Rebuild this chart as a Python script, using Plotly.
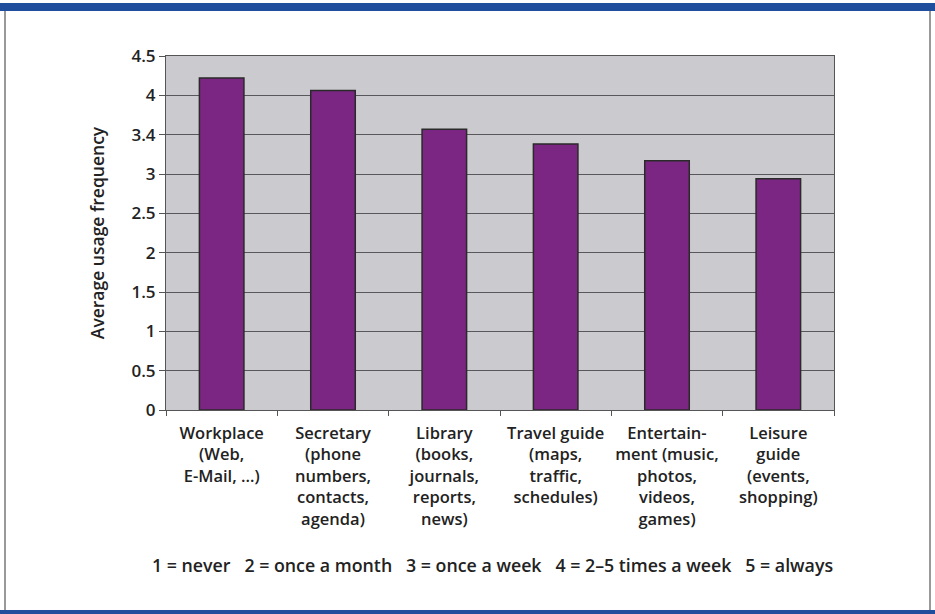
import plotly.graph_objects as go

categories = [
    "Workplace<br>(Web,<br>E-Mail, …)",
    "Secretary<br>(phone<br>numbers,<br>contacts,<br>agenda)",
    "Library<br>(books,<br>journals,<br>reports,<br>news)",
    "Travel guide<br>(maps,<br>traffic,<br>schedules)",
    "Entertain-<br>ment (music,<br>photos,<br>videos,<br>games)",
    "Leisure<br>guide<br>(events,<br>shopping)",
]
values = [4.22, 4.06, 3.57, 3.38, 3.17, 2.94]
y_tickvals = [0, 0.5, 1, 1.5, 2, 2.5, 3, 3.5, 4, 4.5]
y_ticktext = ["0", "0.5", "1", "1.5", "2", "2.5", "3", "3.4", "4", "4.5"]
scale_note = "1 = never   2 = once a month   3 = once a week   4 = 2–5 times a week   5 = always"

W, H = 935, 614
L, R, T, B = 166, 834, 56, 410

def px_x(px):
    return (px - L) / (R - L)

def px_y(py):
    return (B - py) / (B - T)

FONT = "Open Sans"
TXT = "#222"
WGT = 600

fig = go.Figure(go.Bar(
    x=categories, y=values, width=0.4,
    marker=dict(color="#7b2682", line=dict(color="#2a2a2a", width=1.5)),
))

fig.update_layout(
    width=W, height=H,
    margin=dict(l=L, r=W - R, t=T, b=H - B),
    paper_bgcolor="white",
    plot_bgcolor="#cbcbcf",
    font=dict(family=FONT, size=17, color=TXT),
    showlegend=False,
)
fig.update_xaxes(
    showgrid=False, showline=True, linecolor="#555", linewidth=1, mirror=True,
    ticks="outside", tickson="boundaries", ticklen=5, tickcolor="#555",
    tickangle=0, ticklabelstandoff=8,
    tickfont=dict(size=16.5, family=FONT, color=TXT, weight=WGT),
)
fig.update_yaxes(
    range=[0, 4.5], tickvals=y_tickvals, ticktext=y_ticktext,
    showgrid=True, gridcolor="#58585c", gridwidth=1,
    showline=True, linecolor="#555", linewidth=1, mirror=True,
    ticks="outside", ticklen=6, tickcolor="#555",
    tickfont=dict(size=17, family=FONT, color=TXT, weight=WGT),
    title=dict(text="Average usage frequency",
               font=dict(size=17.5, family=FONT, color=TXT, weight=WGT), standoff=22),
    zeroline=False,
)

shapes = [
    dict(type="line", xref="paper", yref="paper",
         x0=px_x(5), x1=px_x(5), y0=px_y(610), y1=px_y(11),
         line=dict(color="#777", width=1.5)),
    dict(type="line", xref="paper", yref="paper",
         x0=px_x(930), x1=px_x(930), y0=px_y(610), y1=px_y(11),
         line=dict(color="#777", width=1.5)),
    dict(type="rect", xref="paper", yref="paper",
         x0=px_x(0), x1=px_x(935), y0=px_y(11), y1=px_y(3),
         line=dict(width=0), fillcolor="#1f4f9c"),
    dict(type="rect", xref="paper", yref="paper",
         x0=px_x(0), x1=px_x(935), y0=px_y(614), y1=px_y(610),
         line=dict(width=0), fillcolor="#1f4f9c"),
]
fig.update_layout(shapes=shapes)

fig.add_annotation(
    text=scale_note, xref="paper", yref="paper",
    x=px_x(492), y=px_y(565), showarrow=False,
    xanchor="center", yanchor="middle",
    font=dict(size=17.8, family=FONT, color=TXT, weight=WGT),
)

fig.write_html(
    "out.html",
    config={"displayModeBar": False},
    post_script="document.body.style.margin='0';document.body.style.overflow='hidden';",
)
